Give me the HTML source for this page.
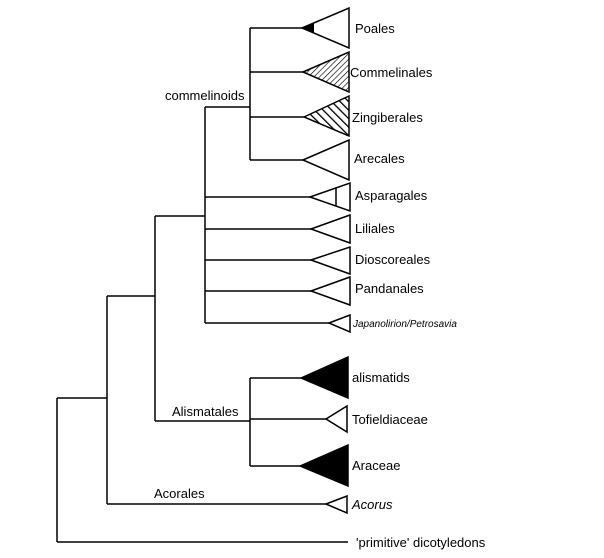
<!DOCTYPE html>
<html><head><meta charset="utf-8"><style>
html,body{margin:0;padding:0;background:#fff;}
svg{display:block;}
text{font-family:"Liberation Sans",Arial,sans-serif;font-size:13px;fill:#000;}
</style></head><body>
<svg width="604" height="558" viewBox="0 0 604 558" xmlns="http://www.w3.org/2000/svg">
<defs>
<pattern id="fine" patternUnits="userSpaceOnUse" width="4" height="4" patternTransform="rotate(45)">
<rect width="4" height="4" fill="#fff"/><line x1="0" y1="0" x2="0" y2="4" stroke="#000" stroke-width="1.3"/></pattern>
<pattern id="wide" patternUnits="userSpaceOnUse" width="6" height="6" patternTransform="rotate(-45)">
<rect width="6" height="6" fill="#fff"/><line x1="0" y1="0" x2="0" y2="6" stroke="#000" stroke-width="2.6"/></pattern>
<clipPath id="pc"><polygon points="302,28 349,8 349,48"/></clipPath>
</defs>
<g stroke="#000" stroke-width="1.5" fill="none">
<!-- commelinoids -->
<path d="M250,28V160 M250,28H302 M250,72H303 M250,117H304 M250,160H303 M205,107H250"/>
<path d="M205,107V323 M205,197H310 M205,229H311 M205,260H311 M205,291H311 M205,323H329"/>
<path d="M155,216H205 M155,216V421 M155,421H250 M250,378V466 M250,378H301 M250,419H326 M250,466H300"/>
<path d="M107,296H155 M107,296V504 M107,504H326 M57,398H107 M57,398V542 M57,542H348"/>
</g>
<g stroke="#000" stroke-width="1.5">
<polygon points="302,28 349,8 349,48" fill="#fff"/>
<polygon points="302,28 314,23 314,33" fill="#000" stroke="none"/>
<polygon points="303,72 349,52 349,92" fill="url(#fine)"/>
<polygon points="304,117 349,96 349,136" fill="url(#wide)"/>
<polygon points="303,160 349,140 349,180" fill="#fff"/>
<polygon points="310,197 350,183 350,211" fill="#fff"/>
<line x1="336" y1="188" x2="336" y2="206"/>
<polygon points="311,229 350,215 350,243" fill="#fff"/>
<polygon points="311,260 350,247 350,274" fill="#fff"/>
<polygon points="311,291 350,277 350,305" fill="#fff"/>
<polygon points="329,323 350,315 350,332" fill="#fff"/>
<polygon points="301,378 348,357 348,398" fill="#000"/>
<polygon points="326,419 347,406 347,432" fill="#fff"/>
<polygon points="300,466 348,445 348,486" fill="#000"/>
<polygon points="326,504 347,496 347,513" fill="#fff"/>
</g>
<text x="355" y="33">Poales</text>
<text x="350" y="77">Commelinales</text>
<text x="352" y="122">Zingiberales</text>
<text x="354" y="163">Arecales</text>
<text x="355" y="200">Asparagales</text>
<text x="355" y="233">Liliales</text>
<text x="355" y="264">Dioscoreales</text>
<text x="355" y="293">Pandanales</text>
<text x="353" y="327" style="font-size:10px;font-style:italic">Japanolirion/Petrosavia</text>
<text x="352" y="382">alismatids</text>
<text x="352" y="424">Tofieldiaceae</text>
<text x="352" y="470">Araceae</text>
<text x="352" y="509" style="font-style:italic">Acorus</text>
<text x="356" y="547">'primitive' dicotyledons</text>
<text x="165" y="100">commelinoids</text>
<text x="172" y="416">Alismatales</text>
<text x="154" y="498">Acorales</text>
</svg>
</body></html>
